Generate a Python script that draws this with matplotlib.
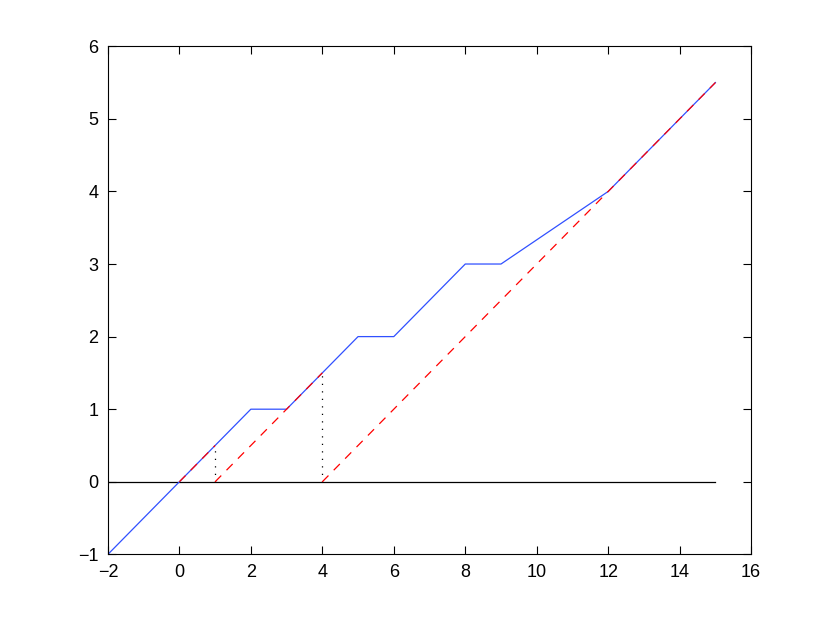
import numpy as np
import matplotlib
matplotlib.use('Agg')
import matplotlib.pyplot as plt

plt.rcParams['font.family'] = ['Liberation Sans', 'DejaVu Sans']

# blue piecewise line (breakpoints)
blue_x = [-2, 2, 3, 5, 6, 8, 9, 12, 15]
blue_y = [-1, 1, 1, 2, 2, 3, 3, 4, 5.5]

# red dashed segments
red_segs = [
    ([0, 1], [0, 0.5]),
    ([1, 4], [0, 1.5]),
    ([4, 15], [0, 5.5]),
]

# dotted verticals
dot_x = [1, 4]
dot_top = [0.5, 1.5]

# zero line
zero_x = [-2, 15]
zero_y = [0, 0]

fig = plt.figure(figsize=(8.3, 6.25), dpi=100)
ax = fig.add_axes([0.13, 0.113, 0.775, 0.813])

ax.plot(zero_x, zero_y, color='black', lw=0.9)
for x, top in zip(dot_x, dot_top):
    ax.plot([x, x], [0, top], color='black', lw=0.9, linestyle=(0, (1, 5)))
ax.plot(blue_x, blue_y, color='#3050ff', lw=0.9)
# red drawn on top, as in the original
for xs, ys in red_segs:
    ax.plot(xs, ys, color='red', lw=0.9, linestyle=(0, (7, 6)))

ax.set_xlim(-2, 16)
ax.set_ylim(-1, 6)
ax.set_xticks(np.arange(-2, 17, 2))
ax.set_yticks(np.arange(-1, 7, 1))
ax.set_xticklabels(['\u22122'] + [str(v) for v in range(0, 17, 2)])
ax.set_yticklabels(['\u22121'] + [str(v) for v in range(0, 7)])
ax.tick_params(direction='in', top=True, right=True, length=6, width=0.8,
               labelsize=13, pad=7)
for s in ax.spines.values():
    s.set_linewidth(0.8)

fig.savefig('out.png', dpi=100)
